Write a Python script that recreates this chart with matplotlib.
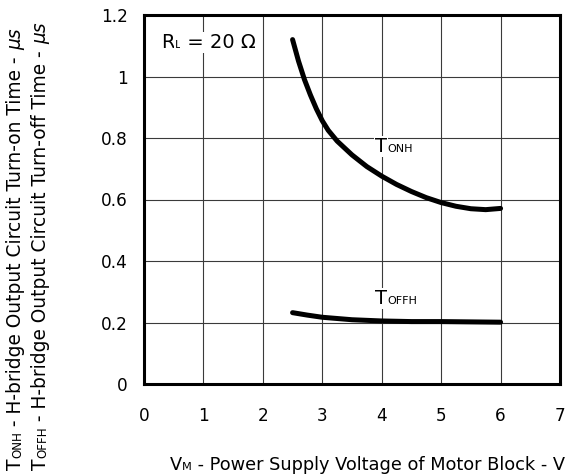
import matplotlib
matplotlib.use('Agg')
import matplotlib.pyplot as plt
from matplotlib.transforms import offset_copy

plt.rcParams['font.family'] = ['DejaVu Sans']

# ---- data ----
tonh_v = [2.5, 2.6, 2.7, 2.8, 2.9, 3.0, 3.1, 3.25, 3.5, 3.75, 4.0, 4.25, 4.5, 4.75, 5.0, 5.25, 5.5, 5.75, 6.0]
tonh_t = [1.12, 1.05, 0.99, 0.94, 0.895, 0.856, 0.825, 0.79, 0.745, 0.707, 0.676, 0.649, 0.626, 0.606, 0.59, 0.578, 0.57, 0.567, 0.571]
toffh_v = [2.5, 2.75, 3.0, 3.5, 4.0, 4.5, 5.0, 5.5, 6.0]
toffh_t = [0.232, 0.224, 0.217, 0.209, 0.205, 0.203, 0.203, 0.202, 0.201]
x_ticks = [0, 1, 2, 3, 4, 5, 6, 7]
y_ticks = [0, 0.2, 0.4, 0.6, 0.8, 1.0, 1.2]
y_ticklabels = ['0', '0.2', '0.4', '0.6', '0.8', '1', '1.2']

W, H = 566, 475
fig = plt.figure(figsize=(W / 100, H / 100), dpi=100)
ax = fig.add_axes([144 / W, 1 - 384 / H, (560 - 144) / W, (384 - 15) / H])

ax.plot(tonh_v, tonh_t, color='black', lw=3.6, solid_capstyle='round',
        solid_joinstyle='round', zorder=3)
ax.plot(toffh_v, toffh_t, color='black', lw=3.6, solid_capstyle='round',
        solid_joinstyle='round', zorder=3)

ax.set_xlim(0, 7)
ax.set_ylim(0, 1.2)
ax.set_xticks(x_ticks)
ax.set_xticklabels([str(v) for v in x_ticks])
ax.set_yticks(y_ticks)
ax.set_yticklabels(y_ticklabels)
ax.tick_params(axis='both', length=0, labelsize=12.2)
ax.tick_params(axis='x', pad=16.5)
ax.tick_params(axis='y', pad=11.5)
ax.grid(True, color='#3a3a3a', lw=0.8)
ax.set_axisbelow(True)
for s in ax.spines.values():
    s.set_linewidth(2.2)
    s.set_color('black')

renderer = fig.canvas.get_renderer()


def measure(s, size, style):
    t1 = fig.text(0, 0, s + '|', fontsize=size, style=style)
    t2 = fig.text(0, 0, '|', fontsize=size, style=style)
    w = t1.get_window_extent(renderer).width - t2.get_window_extent(renderer).width
    t1.remove()
    t2.remove()
    return w


def rich(x, y, pieces, transform, rotation=0, ha='left', bg=False):
    widths = [measure(s, sz, st) for s, sz, st in pieces]
    total = sum(widths)
    off = {'left': 0, 'center': -total / 2, 'right': -total}[ha]
    for (s, sz, st), w in zip(pieces, widths):
        if rotation == 0:
            tr = offset_copy(transform, fig=fig, x=off, y=0, units='dots')
        else:
            tr = offset_copy(transform, fig=fig, x=0, y=off, units='dots')
        kw = {}
        if bg:
            kw['bbox'] = dict(fc='white', ec='none', pad=0.6)
        fig.text(x, y, s, transform=tr, fontsize=sz, style=st, rotation=rotation,
                 rotation_mode='anchor', ha='left', va='baseline', zorder=4, **kw)
        off += w


big = 14
small = 8
ann_t = ax.transData

# annotations
rich(0.29, 1.093, [('R', big, 'normal'), ('L', small, 'normal'), (' = 20 \u03a9', big, 'normal')],
     ann_t, bg=True)
rich(3.89, 0.755, [('T', big, 'normal'), ('ONH', small, 'normal')], ann_t, bg=True)
rich(3.89, 0.26, [('T', big, 'normal'), ('OFFH', small, 'normal')], ann_t, bg=True)

# axis labels
lab = 12.8
labs = 8.2
rich(170 / W, 5 / H, [('V', lab, 'normal'), ('M', labs, 'normal'),
                      (' - Power Supply Voltage of Motor Block - V', lab, 'normal')],
     fig.transFigure, ha='left')
ylab = 13.4
ylabs = 8.6
rich(21 / W, 5 / H, [('T', ylab, 'normal'), ('ONH', ylabs, 'normal'),
                     (' - H-bridge Output Circuit Turn-on Time - ', ylab, 'normal'),
                     ('\u03bcs', ylab, 'italic')],
     fig.transFigure, rotation=90)
rich(46 / W, 5 / H, [('T', ylab, 'normal'), ('OFFH', ylabs, 'normal'),
                     (' - H-bridge Output Circuit Turn-off Time - ', ylab, 'normal'),
                     ('\u03bcs', ylab, 'italic')],
     fig.transFigure, rotation=90)

fig.savefig('out.png', dpi=100)
